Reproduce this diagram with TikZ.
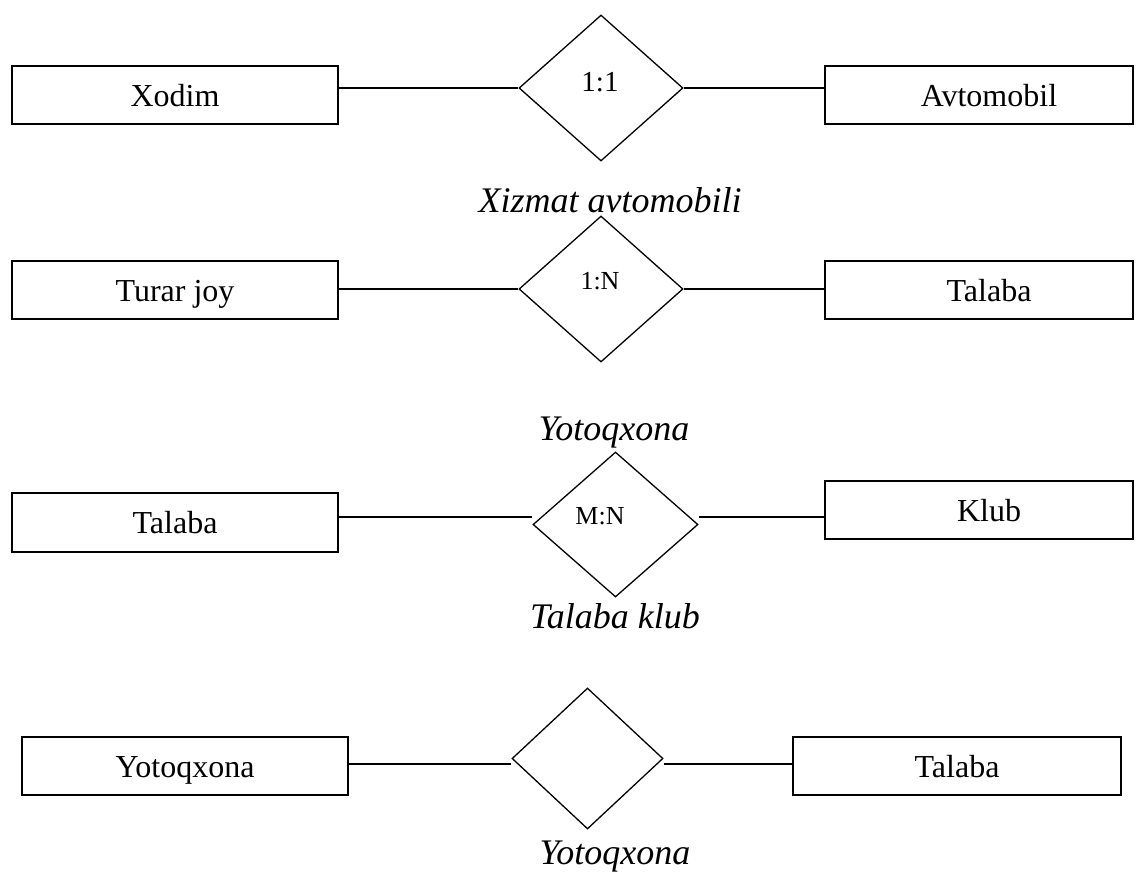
\documentclass[tikz,border=0pt]{standalone}
\usepackage{fontspec}
\setmainfont{Liberation Serif}
\usetikzlibrary{shapes.geometric}
\begin{document}
\begin{tikzpicture}[x=1pt,y=-1pt,
  entity/.style={draw=black,line width=1.6pt,rectangle,inner sep=0pt,minimum height=58pt,
    font=\fontsize{32}{36}\selectfont,text height=22pt,text depth=0pt},
  rel/.style={draw=black,line width=1.3pt,diamond,inner sep=0pt},
  card/.style={inner sep=0pt,text height=19pt,text depth=0pt},
  relname/.style={inner sep=0pt,anchor=base,font=\fontsize{36}{40}\selectfont\itshape},
  link/.style={line width=1.3pt}]
\useasboundingbox (0,0) rectangle (1143,871);
% Row 1
\node[entity,minimum width=326pt] (xodim) at (175,95) {Xodim};
\node[rel,minimum width=164pt,minimum height=146pt] (d1) at (601,88) {};
\node[card,font=\fontsize{29}{33}\selectfont] (c1) at (600,82) {1:1};
\node[entity,minimum width=308pt] (avto) at (979,95) {\hspace*{20pt}Avtomobil};
\node[relname] (n1) at (610,212) {Xizmat avtomobili};
\draw[link] (d1.west -| xodim.east) -- (d1.west);
\draw[link] (d1.east) -- (d1.east -| avto.west);
% Row 2
\node[entity,minimum width=326pt] (turar) at (175,290) {Turar joy};
\node[rel,minimum width=164pt,minimum height=146pt] (d2) at (601,289) {};
\node[card,font=\fontsize{26}{30}\selectfont,text height=17pt] (c2) at (600,281) {1:N};
\node[entity,minimum width=308pt] (tal2) at (979,290) {\hspace*{20pt}Talaba};
\node[relname] (n2) at (614,440) {Yotoqxona};
\draw[link] (d2.west -| turar.east) -- (d2.west);
\draw[link] (d2.east) -- (d2.east -| tal2.west);
% Row 3
\coordinate (l3) at (0,517);
\node[entity,minimum width=326pt,minimum height=59pt] (tal3) at (175,522.5) {Talaba};
\node[rel,minimum width=165pt,minimum height=145pt] (d3) at (615.5,524.5) {};
\node[card,font=\fontsize{26}{30}\selectfont,text height=17pt] (c3) at (600,515.5) {M:N};
\node[entity,minimum width=308pt] (klub) at (979,510) {\hspace*{20pt}Klub};
\node[relname] (n3) at (615,628) {Talaba klub};
\draw[link] (l3 -| tal3.east) -- (l3 -| d3.west);
\draw[link] (l3 -| d3.east) -- (l3 -| klub.west);
% Row 4
\coordinate (l4) at (0,764);
\node[entity,minimum width=326pt] (yot) at (185,766) {Yotoqxona};
\node[rel,minimum width=151pt,minimum height=141pt] (d4) at (587.5,758.5) {};
\node[entity,minimum width=328pt] (tal4) at (957,766) {Talaba};
\node[relname] (n4) at (615,864) {Yotoqxona};
\draw[link] (l4 -| yot.east) -- (l4 -| d4.west);
\draw[link] (l4 -| d4.east) -- (l4 -| tal4.west);
\end{tikzpicture}
\end{document}
